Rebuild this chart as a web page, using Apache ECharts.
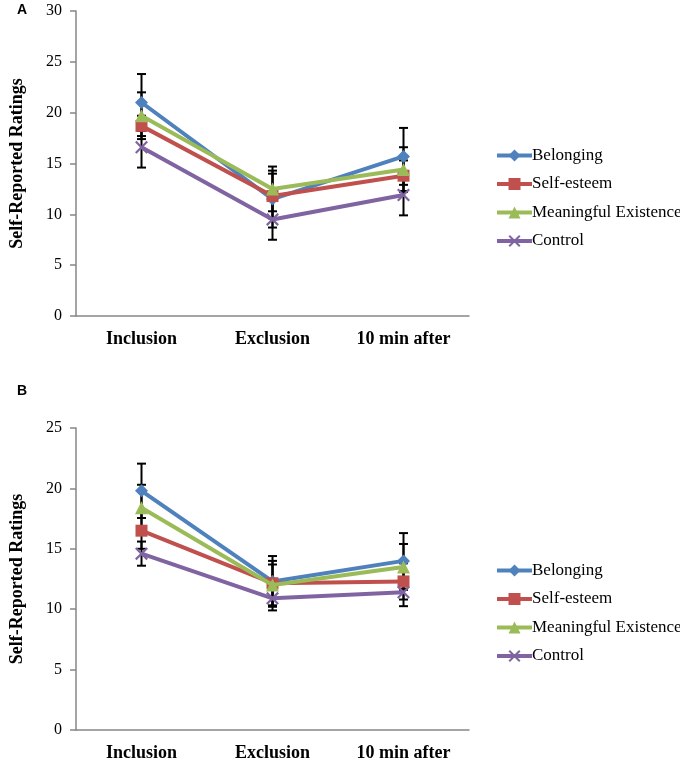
<!DOCTYPE html>
<html>
<head>
<meta charset="utf-8">
<script src="https://cdn.jsdelivr.net/npm/echarts@6/dist/echarts.min.js"></script>
<style>
  html, body { margin: 0; padding: 0; background: #fff; }
  #chart { width: 680px; height: 766px; }
</style>
</head>
<body>
<div id="chart"></div>
<script>
// categories and series names
var categories = ['Inclusion', 'Exclusion', '10 min after'];
var seriesNames = ['Belonging', 'Self-esteem', 'Meaningful Existence', 'Control'];

// panel A means and error bar half-widths
var belongingA = [21.0, 11.5, 15.7];
var selfEsteemA = [18.7, 11.8, 13.8];
var meaningA = [19.7, 12.5, 14.4];
var controlA = [16.6, 9.5, 11.9];
var belongingErrA = [2.8, 2.8, 2.8];
var selfEsteemErrA = [1.0, 2.2, 1.5];
var meaningErrA = [2.3, 2.2, 2.2];
var controlErrA = [2.0, 2.0, 2.0];

// panel B
var belongingB = [19.8, 12.3, 14.0];
var selfEsteemB = [16.5, 12.15, 12.3];
var meaningB = [18.4, 12.0, 13.5];
var controlB = [14.6, 10.9, 11.4];
var belongingErrB = [2.25, 2.1, 2.3];
var selfEsteemErrB = [1.5, 1.85, 1.5];
var meaningErrB = [1.9, 1.7, 1.9];
var controlErrB = [1.0, 1.0, 1.15];

var yTicksA = { max: 30, interval: 5 };
var yTicksB = { max: 25, interval: 5 };

var colors = ['#4F81BD', '#C0504D', '#9BBB59', '#8064A2'];
var crossPath = 'path://M0,1.2 L1.2,0 L5,3.8 L8.8,0 L10,1.2 L6.2,5 L10,8.8 L8.8,10 L5,6.2 L1.2,10 L0,8.8 L3.8,5 Z';
var symbols = ['diamond', 'rect', 'triangle', crossPath];
var symbolSizes = [13, 12, 13, 13];
var serif = 'Liberation Serif';

var chart = echarts.init(document.getElementById('chart'));

function errorRender(params, api) {
  var x = api.value(0);
  var lo = api.coord([x, api.value(1)]);
  var hi = api.coord([x, api.value(2)]);
  var cap = 4.5;
  var st = { stroke: '#000', lineWidth: 2 };
  return {
    type: 'group',
    children: [
      { type: 'line', shape: { x1: lo[0], y1: lo[1], x2: hi[0], y2: hi[1] }, style: st },
      { type: 'line', shape: { x1: lo[0] - cap, y1: lo[1], x2: lo[0] + cap, y2: lo[1] }, style: st },
      { type: 'line', shape: { x1: hi[0] - cap, y1: hi[1], x2: hi[0] + cap, y2: hi[1] }, style: st }
    ]
  };
}

function buildPanel(idx, means, errs) {
  var out = [];
  means.forEach(function (vals, s) {
    var errData = vals.map(function (v, i) {
      return [i, v - errs[s][i], v + errs[s][i]];
    });
    out.push({
      type: 'custom',
      name: 'err' + idx + s,
      xAxisIndex: idx,
      yAxisIndex: idx,
      renderItem: errorRender,
      encode: { x: 0, y: [1, 2] },
      data: errData,
      z: 1,
      silent: true
    });
  });
  means.forEach(function (vals, s) {
    out.push({
      type: 'line',
      name: seriesNames[s],
      xAxisIndex: idx,
      yAxisIndex: idx,
      data: vals,
      symbol: symbols[s],
      symbolSize: symbolSizes[s],
      lineStyle: { color: colors[s], width: 4 },
      itemStyle: { color: colors[s] },
      z: 3 + s
    });
  });
  return out;
}

function xAxisFor(idx) {
  return {
    type: 'category',
    gridIndex: idx,
    data: categories,
    boundaryGap: true,
    axisLine: { lineStyle: { color: '#868686', width: 1.5 } },
    axisTick: { show: false },
    axisLabel: { color: '#000', fontFamily: serif, fontSize: 18, fontWeight: 'bold', margin: 14 }
  };
}

function yAxisFor(idx, ticks) {
  return {
    type: 'value',
    gridIndex: idx,
    min: 0,
    max: ticks.max,
    interval: ticks.interval,
    name: 'Self-Reported Ratings',
    nameLocation: 'middle',
    nameGap: 50,
    nameTextStyle: { color: '#000', fontFamily: serif, fontSize: 18, fontWeight: 'bold' },
    axisLine: { show: true, lineStyle: { color: '#868686', width: 1.5 } },
    axisTick: { show: true, length: 6, lineStyle: { color: '#868686', width: 1.5 } },
    splitLine: { show: false },
    axisLabel: { color: '#000', fontFamily: serif, fontSize: 16, margin: 14 }
  };
}

function legendFor(top) {
  return {
    orient: 'vertical',
    left: 490,
    top: top,
    data: seriesNames,
    itemWidth: 35,
    itemHeight: 15,
    itemGap: 11.5,
    lineStyle: { width: 4 },
    textStyle: { color: '#000', fontFamily: serif, fontSize: 17, lineHeight: 17, padding: [0, 0, 0, -5] }
  };
}

var option = {
  animation: false,
  backgroundColor: '#fff',
  grid: [
    { left: 76, top: 11, right: 211, bottom: 450 },
    { left: 76, top: 428, right: 211, bottom: 36 }
  ],
  xAxis: [xAxisFor(0), xAxisFor(1)],
  yAxis: [yAxisFor(0, yTicksA), yAxisFor(1, yTicksB)],
  legend: [legendFor(142), legendFor(557)],
  graphic: [
    { type: 'text', left: 17, top: 3, style: { text: 'A', font: 'bold 14px "Liberation Sans"', fill: '#000' } },
    { type: 'text', left: 17, top: 384, style: { text: 'B', font: 'bold 14px "Liberation Sans"', fill: '#000' } }
  ],
  series: buildPanel(0, [belongingA, selfEsteemA, meaningA, controlA],
                        [belongingErrA, selfEsteemErrA, meaningErrA, controlErrA])
    .concat(buildPanel(1, [belongingB, selfEsteemB, meaningB, controlB],
                          [belongingErrB, selfEsteemErrB, meaningErrB, controlErrB]))
};

chart.setOption(option);
</script>
</body>
</html>
